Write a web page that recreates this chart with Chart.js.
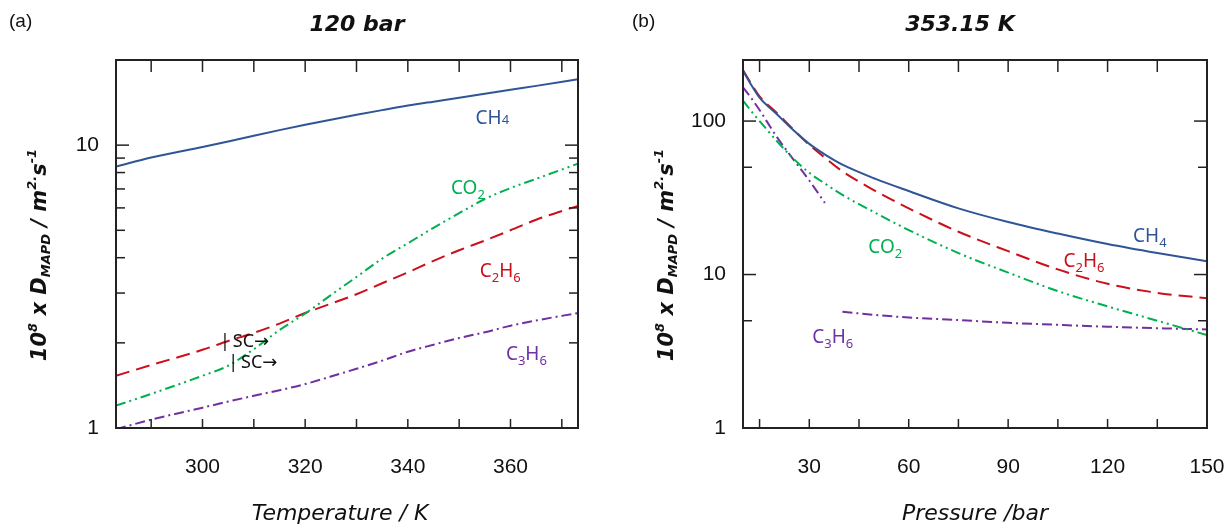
<!DOCTYPE html>
<html>
<head>
<meta charset="utf-8">
<script src="https://cdn.jsdelivr.net/npm/chart.js@4.4.1/dist/chart.umd.min.js"></script>
<style>
  body { margin: 0; background: #fff; width: 1227px; height: 532px; position: relative; overflow: hidden; }
  canvas { position: absolute; top: 0; }
  .tag { position: absolute; top: 10px; font: 19px "Liberation Sans", Arial, sans-serif; color: #111; }
  .ttl { position: absolute; top: 11px; font: italic bold 22px "DejaVu Sans", sans-serif; color: #111; transform: translateX(-50%); white-space: nowrap; }
</style>
</head>
<body>
<canvas id="chartA" width="610" height="532" style="left:0"></canvas>
<canvas id="chartB" width="612" height="532" style="left:615px"></canvas>
<div class="tag" style="left:9px">(a)</div>
<div class="ttl" style="left:357px">120 bar</div>
<div class="tag" style="left:632px">(b)</div>
<div class="ttl" style="left:960px">353.15 K</div>
<script>
// (a) 120 bar, diffusivity vs temperature
const tempK = [283.15, 290, 300, 305, 310, 315, 320, 325, 330, 335, 340, 345, 350, 355, 360, 365, 373.15];
const ch4Temp  = [8.4, 9.05, 9.85, 10.3, 10.8, 11.3, 11.8, 12.3, 12.8, 13.3, 13.8, 14.25, 14.7, 15.2, 15.7, 16.2, 17.1];
const co2Temp  = [1.20, 1.32, 1.53, 1.66, 1.90, 2.22, 2.54, 2.95, 3.42, 3.97, 4.5, 5.1, 5.75, 6.45, 7.05, 7.6, 8.6];
const c2h6Temp = [1.53, 1.67, 1.89, 2.03, 2.17, 2.34, 2.55, 2.75, 2.97, 3.25, 3.55, 3.9, 4.25, 4.6, 5.0, 5.45, 6.1];
const c3h6Temp = [0.99, 1.07, 1.18, 1.24, 1.30, 1.36, 1.43, 1.52, 1.62, 1.73, 1.86, 1.97, 2.08, 2.18, 2.3, 2.4, 2.55];
const xTicksA = [290, 300, 310, 320, 330, 340, 350, 360, 370];
const xLabelsA = [300, 320, 340, 360];
const yTicksA = [1, 2, 3, 4, 5, 6, 7, 8, 9, 10, 20];
const yLabelsA = [1, 10];

// (b) 353.15 K, diffusivity vs pressure
const pressBar = [10, 12.5, 15, 20, 25, 30, 35, 40, 50, 60, 75, 90, 105, 120, 135, 150];
const ch4Press  = [213, 172, 142, 112, 88, 71, 60, 52, 42, 35, 27, 22, 18.5, 15.8, 13.8, 12.2];
const c2h6Press = [215, 175, 145, 114, 89, 70, 57, 47, 35, 27, 19, 14.2, 10.8, 8.7, 7.6, 7.0];
const co2Press  = [136, 116, 100, 75, 57.5, 46, 38.8, 33, 25.2, 19.5, 13.8, 10.3, 7.8, 6.2, 5.0, 4.03];
const c3h6LowBar = [10, 12.5, 15, 20, 25, 30, 34.7];
const c3h6Low    = [166, 141, 118, 80, 57, 41, 29.3];
const c3h6HighBar = [40, 50, 60, 75, 90, 105, 120, 135, 150];
const c3h6High    = [5.72, 5.45, 5.25, 5.05, 4.85, 4.7, 4.57, 4.47, 4.39];
const xTicksB = [15, 30, 45, 60, 75, 90, 105, 120, 135, 150];
const xLabelsB = [30, 60, 90, 120, 150];
const yTicksB = [1, 5, 10, 50, 100];
const yLabelsB = [1, 10, 100];

const colors = {
    ch4: '#2f5597',
    c2h6: '#cc0f1a',
    co2: '#00b050',
    c3h6: '#7030a0',
    ink: '#111'
};
const dashes = {
    c2h6: [14, 7],
    co2: [10, 4, 2, 4, 2, 4],
    c3h6: [10, 4, 2, 4]
};

const pts = (xs, ys) => xs.map((x, i) => ({ x: x, y: ys[i] }));
const series = (label, xs, ys, color, dash) => ({
    label: label,
    data: pts(xs, ys),
    borderColor: color,
    borderWidth: 2,
    borderDash: dash || [],
    pointRadius: 0,
    fill: false,
    cubicInterpolationMode: 'monotone'
});

// parts: [text, kind] where kind 0 = normal, 1 = subscript, 2 = small on baseline, 3 = arrow
function drawParts(ctx, parts, x, y, size) {
    let xx = x;
    parts.forEach(([t, kind]) => {
        const s = (kind === 1 || kind === 2) ? Math.round(size * 0.68) : size;
        ctx.font = s + 'px ' + (kind === 3 ? '"DejaVu Sans"' : '"Noto Sans"') + ', sans-serif';
        ctx.fillText(t, xx, y + (kind === 1 ? 5 : 0));
        xx += ctx.measureText(t).width;
    });
}

function drawYTitle(ctx, cx, cy) {
    const big = 'italic bold 21px "DejaVu Sans", sans-serif';
    const small = 'italic bold 13px "DejaVu Sans", sans-serif';
    const parts = [
        ['10', big, 0], ['8', small, -9], [' x D', big, 0], ['MAPD', small, 4],
        [' / m', big, 0], ['2.', small, -10], ['s', big, 0], ['-1', small, -10]
    ];
    let total = 0;
    parts.forEach(p => { ctx.font = p[1]; total += ctx.measureText(p[0]).width; });
    ctx.save();
    ctx.translate(cx, cy);
    ctx.rotate(-Math.PI / 2);
    ctx.fillStyle = colors.ink;
    ctx.textBaseline = 'alphabetic';
    let xx = -total / 2;
    parts.forEach(p => {
        ctx.font = p[1];
        ctx.fillText(p[0], xx, p[2]);
        xx += ctx.measureText(p[0]).width;
    });
    ctx.restore();
}

const figPlugin = {
    id: 'fig',
    afterDatasetsDraw(chart, args, opts) {
        const { ctx, chartArea: a } = chart;
        const x = chart.scales.x, y = chart.scales.y;
        ctx.save();
        ctx.strokeStyle = '#222';
        ctx.lineWidth = 1.5;
        const seg = (x1, y1, x2, y2) => { ctx.beginPath(); ctx.moveTo(x1, y1); ctx.lineTo(x2, y2); ctx.stroke(); };
        opts.xTicks.forEach(v => {
            const px = x.getPixelForValue(v);
            seg(px, a.bottom, px, a.bottom - 9);
            seg(px, a.top, px, a.top + 12);
        });
        opts.yTicks.forEach(v => {
            const py = y.getPixelForValue(v);
            const len = opts.yLabels.includes(v) ? 13 : 9;
            seg(a.left, py, a.left + len, py);
            seg(a.right, py, a.right - len, py);
        });
        ctx.lineWidth = 2;
        ctx.strokeRect(a.left, a.top, a.right - a.left, a.bottom - a.top);

        ctx.textAlign = 'left';
        ctx.textBaseline = 'alphabetic';
        opts.labels.forEach(l => {
            ctx.fillStyle = l.color;
            drawParts(ctx, l.parts, x.getPixelForValue(l.x), y.getPixelForValue(l.y), l.size || 19);
        });
        drawYTitle(ctx, a.left - 70, a.top + 195);
        ctx.restore();
    }
};

function makeChart(id, cfg) {
    return new Chart(document.getElementById(id), {
        type: 'line',
        data: { datasets: cfg.datasets },
        options: {
            responsive: false,
            animation: false,
            devicePixelRatio: 1,
            layout: { padding: { top: 60, right: cfg.padRight, left: 0, bottom: 0 } },
            plugins: {
                legend: { display: false },
                tooltip: { enabled: false },
                fig: { xTicks: cfg.xTicks, yTicks: cfg.yTicks, yLabels: cfg.yLabels, labels: cfg.labels }
            },
            scales: {
                x: {
                    type: 'linear',
                    min: cfg.xMin,
                    max: cfg.xMax,
                    grid: { display: false, drawTicks: false },
                    border: { display: false },
                    afterBuildTicks: s => { s.ticks = cfg.xTicks.map(v => ({ value: v })); },
                    afterFit: s => { s.height = 104; s.paddingLeft = 0; s.paddingRight = 0; },
                    ticks: {
                        padding: 27,
                        autoSkip: false,
                        maxRotation: 0,
                        color: colors.ink,
                        font: { family: '"Liberation Sans", Arial', size: 21 },
                        callback: v => cfg.xLabels.includes(v) ? String(v) : ''
                    },
                    title: {
                        display: true,
                        text: cfg.xTitle,
                        color: colors.ink,
                        font: { family: '"DejaVu Sans"', style: 'italic', size: 22 },
                        padding: { top: 0, bottom: 5 }
                    }
                },
                y: {
                    type: 'logarithmic',
                    min: 1,
                    max: cfg.yMax,
                    grid: { display: false, drawTicks: false },
                    border: { display: false },
                    afterBuildTicks: s => { s.ticks = cfg.yTicks.map(v => ({ value: v })); },
                    afterFit: s => { s.width = cfg.yWidth; s.paddingTop = 0; s.paddingBottom = 0; },
                    ticks: {
                        padding: 17,
                        autoSkip: false,
                        color: colors.ink,
                        font: { family: '"Liberation Sans", Arial', size: 21 },
                        callback: v => cfg.yLabels.includes(v) ? String(v) : ''
                    }
                }
            }
        },
        plugins: [figPlugin]
    });
}

makeChart('chartA', {
    datasets: [
        series('CH4', tempK, ch4Temp, colors.ch4),
        series('CO2', tempK, co2Temp, colors.co2, dashes.co2),
        series('C2H6', tempK, c2h6Temp, colors.c2h6, dashes.c2h6),
        series('C3H6', tempK, c3h6Temp, colors.c3h6, dashes.c3h6)
    ],
    xMin: 283.15, xMax: 373.15, yMax: 20,
    xTicks: xTicksA, xLabels: xLabelsA, yTicks: yTicksA, yLabels: yLabelsA,
    xTitle: 'Temperature / K  ',
    yWidth: 116, padRight: 32,
    labels: [
        { x: 353.2, y: 11.9, color: colors.ch4, parts: [['CH', 0], ['4', 2]] },
        { x: 348.4, y: 6.7, color: colors.co2, parts: [['CO', 0], ['2', 1]] },
        { x: 354.0, y: 3.42, color: colors.c2h6, parts: [['C', 0], ['2', 1], ['H', 0], ['6', 1]] },
        { x: 359.1, y: 1.74, color: colors.c3h6, parts: [['C', 0], ['3', 1], ['H', 0], ['6', 1]] },
        { x: 303.4, y: 1.93, color: colors.ink, size: 18, parts: [['|\u2009SC', 0], ['\u2192', 3]] },
        { x: 305.0, y: 1.63, color: colors.ink, size: 18, parts: [['|\u2009SC', 0], ['\u2192', 3]] }
    ]
});

makeChart('chartB', {
    datasets: [
        series('CH4', pressBar, ch4Press, colors.ch4),
        series('C2H6', pressBar, c2h6Press, colors.c2h6, dashes.c2h6),
        series('CO2', pressBar, co2Press, colors.co2, dashes.co2),
        series('C3H6', c3h6LowBar, c3h6Low, colors.c3h6, dashes.c3h6),
        series('C3H6', c3h6HighBar, c3h6High, colors.c3h6, dashes.c3h6)
    ],
    xMin: 10, xMax: 150, yMax: 250,
    xTicks: xTicksB, xLabels: xLabelsB, yTicks: yTicksB, yLabels: yLabelsB,
    xTitle: 'Pressure /bar',
    yWidth: 128, padRight: 20,
    labels: [
        { x: 127.7, y: 16.4, color: colors.ch4, parts: [['CH', 0], ['4', 1]] },
        { x: 106.7, y: 11.2, color: colors.c2h6, parts: [['C', 0], ['2', 1], ['H', 0], ['6', 1]] },
        { x: 47.8, y: 13.9, color: colors.co2, parts: [['CO', 0], ['2', 1]] },
        { x: 30.9, y: 3.57, color: colors.c3h6, parts: [['C', 0], ['3', 1], ['H', 0], ['6', 1]] }
    ]
});
</script>
</body>
</html>
